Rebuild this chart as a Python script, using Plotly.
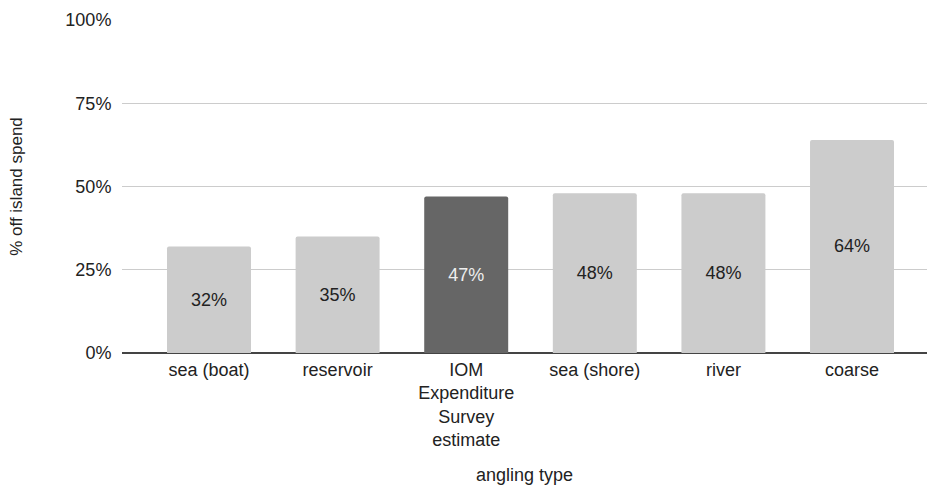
import plotly.graph_objects as go

categories = ["sea (boat)", "reservoir", "IOM<br>Expenditure<br>Survey<br>estimate", "sea (shore)", "river", "coarse"]
values = [0.32, 0.35, 0.47, 0.48, 0.48, 0.64]
labels = ["32%", "35%", "47%", "48%", "48%", "64%"]
bar_colors = ["#cccccc", "#cccccc", "#666666", "#cccccc", "#cccccc", "#cccccc"]
text_colors = ["#222222", "#222222", "#eeeeee", "#222222", "#222222", "#222222"]
y_ticks = [0, 0.25, 0.5, 0.75, 1.0]
y_tick_labels = ["0%", "25%", "50%", "75%", "100%"]

FONT = "Liberation Sans, Arial, sans-serif"

fig = go.Figure(go.Bar(
    x=list(range(len(categories))),
    y=values,
    text=labels,
    textposition="inside",
    insidetextanchor="middle",
    textfont=dict(color=text_colors, size=18, family=FONT),
    marker=dict(color=bar_colors, line=dict(width=0), cornerradius=2),
    width=0.653,
    hoverinfo="skip",
))

fig.update_layout(
    width=927, height=485,
    margin=dict(l=122, r=0, t=20, b=132),
    paper_bgcolor="white", plot_bgcolor="white",
    font=dict(family=FONT, size=18, color="#222222"),
    showlegend=False,
    uniformtext=dict(mode=False),
)
fig.update_xaxes(
    tickmode="array",
    tickvals=list(range(len(categories))),
    ticktext=categories,
    range=[-0.6765, 5.583],
    showgrid=False,
    ticks="",
    showline=False,
    zeroline=False,
    ticklabelstandoff=4,
    tickfont=dict(size=18, color="#222222"),
    title=dict(text="angling type", font=dict(size=18, color="#222222"), standoff=28),
    automargin=False,
)
fig.update_yaxes(
    range=[0, 1],
    tickmode="array",
    tickvals=y_ticks,
    ticktext=y_tick_labels,
    showgrid=True,
    gridcolor="#cccccc",
    gridwidth=1,
    zeroline=True,
    zerolinecolor="#444444",
    zerolinewidth=2,
    ticks="outside",
    ticklen=6,
    tickcolor="rgba(0,0,0,0)",
    tickfont=dict(size=18, color="#222222"),
    title=dict(text="% off island spend", font=dict(size=17, color="#222222"), standoff=38),
    automargin=False,
)

fig.write_html("out.html")
